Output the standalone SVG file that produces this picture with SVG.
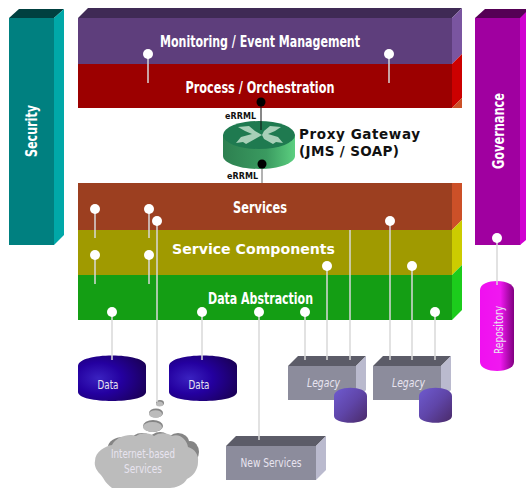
<svg xmlns="http://www.w3.org/2000/svg" width="526" height="488" viewBox="0 0 526 488">
<defs>
<radialGradient id="db" cx="0.3" cy="0.5" r="0.85"><stop offset="0" stop-color="#3a22c0"/><stop offset="0.4" stop-color="#2400a0"/><stop offset="1" stop-color="#180048"/></radialGradient>
<linearGradient id="rep" x1="0" y1="0" x2="1" y2="0"><stop offset="0" stop-color="#f010f0"/><stop offset="0.6" stop-color="#f018f0"/><stop offset="1" stop-color="#800080"/></linearGradient>
<linearGradient id="leg" x1="0" y1="0" x2="1" y2="1"><stop offset="0" stop-color="#6f5bd0"/><stop offset="0.5" stop-color="#5f45a8"/><stop offset="1" stop-color="#4a2a68"/></linearGradient>
<linearGradient id="rt" x1="0" y1="0" x2="1" y2="0"><stop offset="0" stop-color="#2d8050"/><stop offset="0.6" stop-color="#3a9a60"/><stop offset="1" stop-color="#5ccf80"/></linearGradient>
<marker id="pin" markerWidth="10" markerHeight="10" refX="5" refY="5" markerUnits="userSpaceOnUse"><circle cx="5" cy="5" r="5" fill="#fff"/></marker>
</defs>
<style>
.t{font-family:"DejaVu Sans",sans-serif;fill:#fff;font-weight:bold;text-anchor:middle;font-size:16px}
.s{font-family:"DejaVu Sans",sans-serif;fill:#e8e4f0;text-anchor:middle;font-size:12px}
.b{font-family:"DejaVu Sans",sans-serif;fill:#111;font-weight:bold;font-size:13.5px}
.e{font-family:"DejaVu Sans",sans-serif;fill:#111;font-weight:bold;font-size:8px}
.w{stroke:#d8d8d8;stroke-width:1.5;fill:none;marker-start:url(#pin)}
.k{stroke:#111;stroke-width:1;fill:none}
.c{fill:#bcbcbc}
.d{fill:#858585}
</style>
<g id="security">
<path d="M9 18L19 9H64L54 18Z" fill="#004040"/><rect x="9" y="18" width="45" height="227" fill="#008080"/><path d="M54 18L64 9V235L54 245Z" fill="#00a8a8"/>
<text class="t" transform="translate(37 131) rotate(-90)" textLength="52" lengthAdjust="spacingAndGlyphs">Security</text></g>
<g id="governance">
<path d="M475 18L485 9H526V235L520 245H475Z" fill="#550055"/><rect x="475" y="18" width="45" height="227" fill="#a000a0"/><path d="M520 18L526 12V240L520 245Z" fill="#d000d0"/>
<text class="t" transform="translate(504 131) rotate(-90)" textLength="76" lengthAdjust="spacingAndGlyphs">Governance</text></g>
<g id="monitoring">
<path d="M78 18L88 8H462L452 18Z" fill="#3f2a55"/><rect x="78" y="18" width="374" height="46" fill="#5e3e7c"/><path d="M452 18L462 8V54L452 64Z" fill="#7a55a0"/>
<text class="t" x="260" y="47" textLength="200" lengthAdjust="spacingAndGlyphs">Monitoring / Event Management</text></g>
<g id="process">
<rect x="78" y="64" width="374" height="44" fill="#9c0000"/><path d="M452 64L462 54V98L452 108Z" fill="#cc0000"/><path d="M452 108L462 98V108Z" fill="#cc5028"/>
<text class="t" x="260" y="93" textLength="149" lengthAdjust="spacingAndGlyphs">Process / Orchestration</text></g>
<g id="services">
<rect x="78" y="183" width="374" height="47" fill="#9c3f20"/><path d="M452 183H462V220L452 230Z" fill="#cc5028"/>
<text class="t" x="260" y="213" textLength="54" lengthAdjust="spacingAndGlyphs">Services</text></g>
<g id="components">
<rect x="78" y="230" width="374" height="45" fill="#a09a00"/><path d="M452 230L462 220V265L452 275Z" fill="#cccc00"/>
<text class="t" x="253.500" y="254" textLength="163" lengthAdjust="spacingAndGlyphs" style="font-size:13.500px">Service Components</text></g>
<g id="abstraction">
<rect x="78" y="275" width="374" height="45" fill="#149e14"/><path d="M452 275L462 265V310L452 320Z" fill="#1ccc1c"/>
<text class="t" x="260.500" y="304" textLength="105" lengthAdjust="spacingAndGlyphs">Data Abstraction</text></g>
<g id="gateway">
<path d="M223 135V156C223 163 239 169 259 169S295 163 295 156V135Z" fill="url(#rt)"/>
<ellipse cx="259" cy="135" rx="36" ry="14" fill="#1f7a50"/>
<path d="M238 127L249 126L255 131L262 135L255 139L246 144L243 142L236 143L241 137L252 134L245 131ZM281 127L270 126L264 131L262 135L264 139L273 144L276 142L283 143L278 137L268 134L275 131Z" fill="#a8d0b8"/>
<text class="b" x="299" y="139" textLength="121" lengthAdjust="spacing">Proxy Gateway</text><text class="b" x="299" y="156" textLength="100" lengthAdjust="spacing">(JMS / SOAP)</text>
<text class="e" x="225" y="119" textLength="31" lengthAdjust="spacing">eRRML</text><text class="e" x="227" y="179" textLength="31" lengthAdjust="spacing">eRRML</text></g>
<g id="data1"><path d="M78 366C78 352 146 352 146 366V392C146 404 78 404 78 392Z" fill="url(#db)"/><text class="s" x="108" y="389" textLength="21" lengthAdjust="spacingAndGlyphs">Data</text></g>
<g id="data2"><path d="M169 366C169 352 237 352 237 366V392C237 404 169 404 169 392Z" fill="url(#db)"/><text class="s" x="199" y="389" textLength="21" lengthAdjust="spacingAndGlyphs">Data</text></g>
<g id="legacy1"><path d="M288 366L298 356H366L356 366Z" fill="#5c5c68"/><rect x="288" y="366" width="68" height="34" fill="#8c8c9c"/><path d="M356 366L366 356V390L356 400Z" fill="#babace"/>
<text class="s" x="323.500" y="387" textLength="33" lengthAdjust="spacingAndGlyphs" style="font-style:italic">Legacy</text>
<path d="M334 396C334 385 367 385 367 396V416C367 425 334 425 334 416Z" fill="url(#leg)"/></g>
<g id="legacy2"><path d="M373 366L383 356H451L441 366Z" fill="#5c5c68"/><rect x="373" y="366" width="68" height="34" fill="#8c8c9c"/><path d="M441 366L451 356V390L441 400Z" fill="#babace"/>
<text class="s" x="408.500" y="387" textLength="33" lengthAdjust="spacingAndGlyphs" style="font-style:italic">Legacy</text>
<path d="M419 396C419 385 452 385 452 396V416C452 425 419 425 419 416Z" fill="url(#leg)"/></g>
<g id="newservices"><path d="M226 446L236 436H326L316 446Z" fill="#5c5c68"/><rect x="226" y="446" width="90" height="34" fill="#8c8c9c"/><path d="M316 446L326 436V470L316 480Z" fill="#babace"/>
<text class="s" x="271" y="467" textLength="61" lengthAdjust="spacingAndGlyphs">New Services</text></g>
<g id="repository"><path d="M480 290C480 278 514 278 514 290V362C514 374 480 374 480 362Z" fill="url(#rep)"/>
<text class="s" transform="translate(503 330) rotate(-90)" textLength="48" lengthAdjust="spacingAndGlyphs">Repository</text></g>
<g id="internet">
<ellipse class="d" cx="160" cy="403" rx="4" ry="3"/><ellipse class="d" cx="156" cy="413" rx="7" ry="4.500"/><ellipse class="d" cx="153" cy="426" rx="10" ry="6"/>
<ellipse class="c" cx="159.500" cy="404" rx="3.500" ry="2.500"/><ellipse class="c" cx="155.500" cy="414" rx="6.500" ry="3.800"/><ellipse class="c" cx="152.500" cy="427" rx="9.500" ry="5"/>
<g class="d"><ellipse cx="123" cy="447" rx="15" ry="10"/><ellipse cx="142" cy="441" rx="11" ry="8"/><ellipse cx="160" cy="440" rx="10" ry="8"/><ellipse cx="178" cy="442" rx="11" ry="9"/><ellipse cx="190" cy="452" rx="9" ry="11"/></g>
<path class="c" d="M95 461C95 452 105 446 112 445C116 436 130 433 136 436C142 432 150 433 154 436C160 432 168 433 172 436C180 433 187 440 188 447C195 449 199 455 198 462C198 470 193 476 187 479C184 485 175 488 170 488H112C104 482 104 478 100 474C96 470 94 465 95 461Z"/>
<text class="s" x="143" y="458" textLength="64" lengthAdjust="spacingAndGlyphs">Internet-based</text><text class="s" x="143" y="473" textLength="38" lengthAdjust="spacingAndGlyphs">Services</text></g>
<g id="connectors">
<path class="w" d="M148 54V83"/><path class="w" d="M389 54V83"/>
<path class="w" d="M95 209V238"/><path class="w" d="M149 209V238"/><path class="w" d="M157 221V402"/>
<path class="w" d="M95 255V284"/><path class="w" d="M149 255V284"/>
<path class="w" d="M112 312V360"/><path class="w" d="M202 312V360"/><path class="w" d="M259 312V440"/><path class="w" d="M305 312V360"/><path class="w" d="M435 312V360"/>
<path class="w" d="M327 266V360"/><path class="w" d="M412 266V360"/><path class="w" d="M390 221V360"/>
<path d="M350 230V360" stroke="#d8d8d8" stroke-width="1.500"/>
<path class="w" d="M497 238V285"/>
<path class="k" d="M261 102V130"/><circle cx="261" cy="102" r="4.500" fill="#000"/>
<path d="M262 164V183" stroke="#666" stroke-width="1"/><circle cx="262" cy="164" r="4.500" fill="#000"/>
</g>
</svg>
